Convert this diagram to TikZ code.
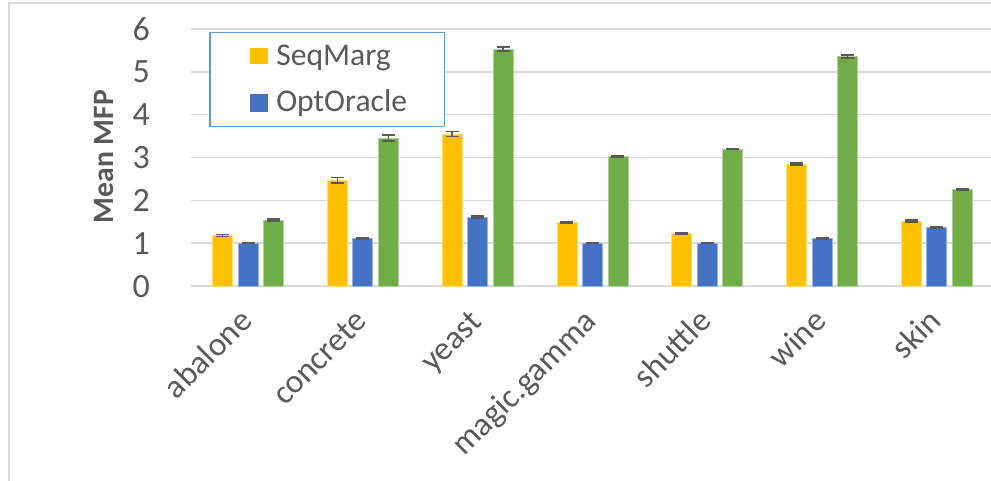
\documentclass[tikz,border=0pt]{standalone}
\usepackage{fontspec}
\setmainfont{Carlito}
\definecolor{txtgray}{HTML}{595959}
\definecolor{gridgray}{HTML}{D9D9D9}
\definecolor{seqcol}{HTML}{FFC000}
\definecolor{optcol}{HTML}{4472C4}
\definecolor{thirdcol}{HTML}{70AD47}
\definecolor{legendline}{HTML}{5B9BD5}
\definecolor{errcol}{HTML}{595959}

% value -> vertical pixel position (y axis grows downward)
\newcommand\valpos[1]{286-42.83*(#1)}
% error bar: x position, value, half-width of the interval
\newcommand\errbarat[3]{%
  \draw[errline] (#1,{\valpos{#2-#3}}) -- (#1,{\valpos{#2+#3}});
  \draw[errline] (#1-6.5,{\valpos{#2-#3}}) -- (#1+6.5,{\valpos{#2-#3}});
  \draw[errline] (#1-6.5,{\valpos{#2+#3}}) -- (#1+6.5,{\valpos{#2+#3}});
}
\newcommand\barat[3]{%
  \filldraw[fill=#3, draw=#3!55!white, line width=0.6pt] (#1-10,286) rectangle (#1+10,{\valpos{#2}});
}

\begin{document}
\begin{tikzpicture}[x=0.75pt,y=-0.75pt,
  gridline/.style={draw=gridgray, line width=1.1pt},
  errline/.style={draw=errcol, line width=1.2pt},
  ticklabel/.style={text=txtgray, font=\fontsize{25.5}{28}\selectfont, anchor=base east, inner sep=0pt},
  catlabel/.style={text=txtgray, font=\fontsize{25}{28}\selectfont, anchor=base east, rotate=45, inner sep=0pt},
  legendtext/.style={text=txtgray, font=\fontsize{23.7}{26}\selectfont, anchor=base west, inner sep=0pt}]
\clip (0,0) rectangle (991,480);
\fill[white] (0,0) rectangle (991,480);
% chart frame
\draw[gridgray, line width=0.9pt] (9,3) rectangle (1010,500);

% horizontal grid and value labels
\foreach \v in {0,...,6}{
  \draw[gridline] (191,{\valpos{\v}}) -- (1000,{\valpos{\v}});
  \node[ticklabel] (tick\v) at (150,{\valpos{\v}+11}) {\v};
}

% axis title
\node[text=txtgray, font=\bfseries\fontsize{22.2}{24}\selectfont, rotate=90, inner sep=0pt] (ytitle) at (104,156.5) {Mean MFP};

% bars: name / SeqMarg value / err / OptOracle value / err / third series value / err
\foreach \name/\ya/\ea/\yb/\eb/\yc/\ec [count=\k from 0] in {
  abalone/1.18/0.02/1.00/0.01/1.54/0.02,
  concrete/2.47/0.06/1.10/0.015/3.45/0.07,
  yeast/3.55/0.06/1.61/0.025/5.53/0.05,
  magic.gamma/1.49/0.02/1.00/0.01/3.03/0.015,
  shuttle/1.23/0.01/1.00/0.01/3.20/0.01,
  wine/2.85/0.02/1.11/0.01/5.36/0.03,
  skin/1.52/0.02/1.37/0.02/2.26/0.015}{
  \pgfmathsetmacro\cx{248+114.8*\k}
  \pgfmathsetmacro\xa{\cx-25.5}
  \pgfmathsetmacro\xc{\cx+25.5}
  \barat{\xa}{\ya}{seqcol}
  \barat{\cx}{\yb}{optcol}
  \barat{\xc}{\yc}{thirdcol}
  \errbarat{\xa}{\ya}{\ea}
  \errbarat{\cx}{\yb}{\eb}
  \errbarat{\xc}{\yc}{\ec}
  \node[catlabel] (cat\k) at (\cx+6,323) {\name};
}

% legend
\draw[legendline, line width=1.1pt, fill=white] (210,32.7) rectangle (444.3,126.7);
\fill[seqcol] (250,47.7) rectangle (267.7,64.3);
\fill[optcol] (250,94) rectangle (267.7,111.7);
\node[legendtext] (legSeq) at (276,65) {SeqMarg};
\node[legendtext] (legOpt) at (276,111.7) {OptOracle};
\end{tikzpicture}
\end{document}
